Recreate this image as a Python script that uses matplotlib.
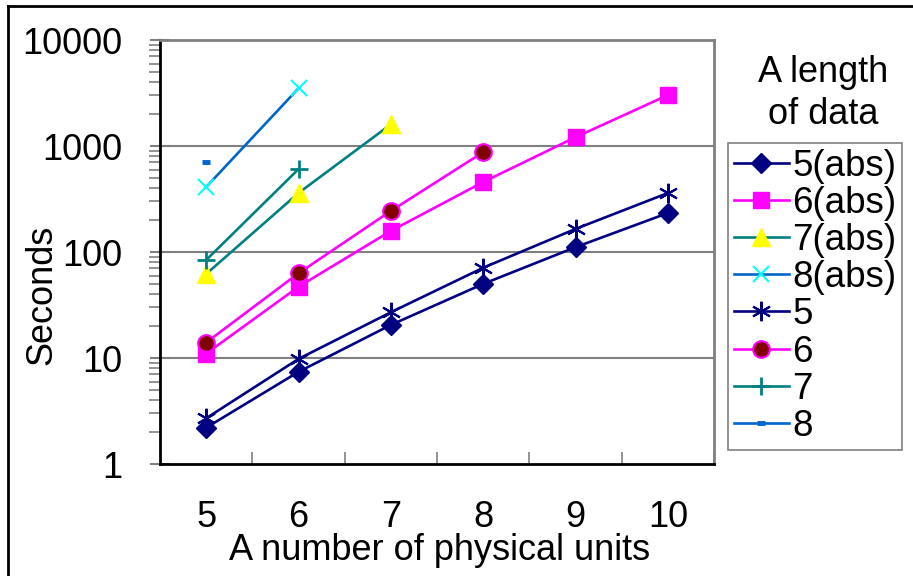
import matplotlib
matplotlib.use('Agg')
import matplotlib.pyplot as plt
from matplotlib.lines import Line2D
from matplotlib.ticker import FixedLocator, NullFormatter

plt.rcParams['font.family'] = ['Liberation Sans', 'DejaVu Sans']

units = ['5', '6', '7', '8', '9', '10']

abs5 = [2.2, 7.4, 20.5, 50, 111, 233]
abs6 = [11, 47, 158, 457, 1210, 3020]
abs7 = [62, 360, 1600]
abs8 = [410, 3500]
rel5 = [2.7, 9.8, 27, 71, 165, 360]
rel6 = [14, 63, 244, 875]
rel7 = [84, 605]
rel8 = [710]

labels = ['5(abs)', '6(abs)', '7(abs)', '8(abs)', '5', '6', '7', '8']

FS = 26
LW = 1.9

fig = plt.figure(figsize=(9.13, 5.76), dpi=100)
ax = fig.add_axes([160/913, 1-464/576, 554/913, 424/576])

x = list(range(len(units)))
ax.plot(x[:len(abs5)], abs5, color='#000080', lw=LW, marker='D', ms=10, mfc='#000080', mec='#000080')
ax.plot(x[:len(abs6)], abs6, color='#ff00ff', lw=LW, marker='s', ms=12, mfc='#ff00ff', mec='#ff00ff')
ax.plot(x[:len(abs7)], abs7, color='#008080', lw=LW, marker='^', ms=13, mfc='#ffff00', mec='#ffff00')
ax.plot(x[:len(abs8)], abs8, color='#0066cc', lw=LW, marker='x', ms=12, mew=1.5, mec='#00ffff')
ax.plot(x[:len(rel5)], rel5, color='#000080', lw=LW, marker=(6, 2, 0), ms=14, mew=1.5, mec='#000080')
ax.plot(x[:len(rel6)], rel6, color='#ff00ff', lw=LW, marker='o', ms=12, mfc='#800000', mec='#ff00ff', mew=1.5)
ax.plot(x[:len(rel7)], rel7, color='#008080', lw=LW, marker='+', ms=13, mew=2, mec='#008080')
ax.plot(x[:len(rel8)], rel8, color='#0066cc', lw=LW, marker='_', ms=6, mew=3.5, mec='#0066cc')

ax.set_yscale('log')
ax.set_ylim(1, 10000)
ax.set_xlim(-0.5, len(units) - 0.5)

ax.set_yticks([1, 10, 100, 1000, 10000])
ax.set_yticklabels(['1', '10', '100', '1000', '10000'], fontsize=FS)
ax.yaxis.set_minor_locator(FixedLocator([m * 10**e for e in range(4) for m in range(2, 10)]))
ax.yaxis.set_minor_formatter(NullFormatter())
ax.tick_params(axis='y', which='major', direction='inout', length=14, width=1.5, color='#808080', pad=20)
ax.tick_params(axis='y', which='minor', direction='out', length=8, width=1.2, color='#808080')

ax.set_xticks(x)
ax.set_xticklabels(units, fontsize=FS)
ax.xaxis.set_minor_locator(FixedLocator([i + 0.5 for i in x]))
ax.tick_params(axis='x', which='major', length=0, pad=26)
ax.tick_params(axis='x', which='minor', direction='in', length=9, width=1.2, color='#808080')

for v in [10, 100, 1000]:
    ax.axhline(v, color='#808080', lw=1.5, zorder=0)

ax.spines['left'].set_color('black')
ax.spines['left'].set_linewidth(2)
ax.spines['bottom'].set_color('black')
ax.spines['bottom'].set_linewidth(2)
ax.spines['top'].set_color('#808080')
ax.spines['top'].set_linewidth(2)
ax.spines['right'].set_color('#808080')
ax.spines['right'].set_linewidth(2)

fig.text(440/913, 1-550/576, 'A number of physical units', fontsize=FS, ha='center', va='center')
fig.text(42/913, 1-295/576, 'Seconds', fontsize=FS, rotation=90, ha='center', va='center')

fig.text(823/913, 1-72/576, 'A length', fontsize=FS, ha='center', va='center')
fig.text(823/913, 1-115/576, 'of data', fontsize=FS, ha='center', va='center')

leg = fig.legend(ax.lines[:8], labels, loc='upper left',
                 bbox_to_anchor=(728/913, 1-143/576), fontsize=26.5,
                 frameon=True, fancybox=False, edgecolor='#606060',
                 handlelength=1.5, handletextpad=0.1, labelspacing=0.06,
                 borderpad=0.15, borderaxespad=0)
leg.get_frame().set_linewidth(1.2)

# outer chart frame (left and top only visible)
fig.add_artist(Line2D([8/913, 8/913], [0, 1-6/576], color='black', lw=2, transform=fig.transFigure))
fig.add_artist(Line2D([8/913, 1], [1-6/576, 1-6/576], color='black', lw=2, transform=fig.transFigure))

fig.savefig('out.png', dpi=100)
